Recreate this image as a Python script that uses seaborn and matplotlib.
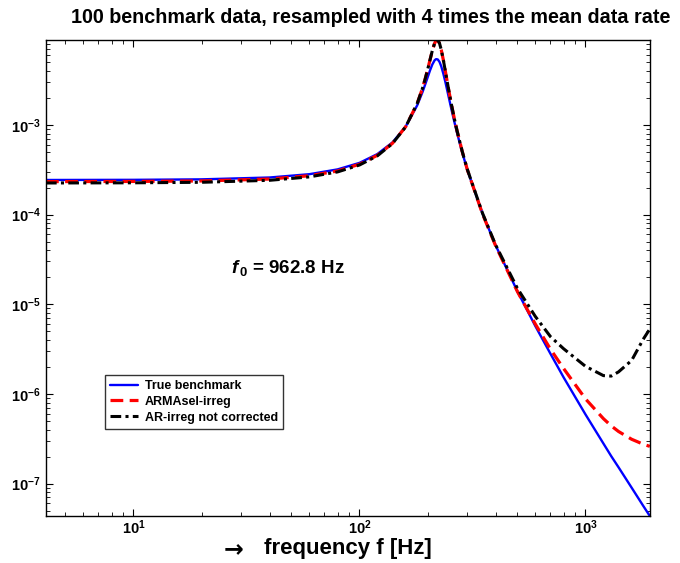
import numpy as np
import pandas as pd
import matplotlib
matplotlib.use('Agg')
import matplotlib.pyplot as plt
import seaborn as sns

sns.set_style('ticks')
plt.rcParams['font.family'] = ['Liberation Sans', 'DejaVu Sans']
plt.rcParams['font.weight'] = 'bold'
plt.rcParams['text.color'] = 'black'
plt.rcParams['axes.labelcolor'] = 'black'
plt.rcParams['xtick.color'] = 'black'
plt.rcParams['ytick.color'] = 'black'
plt.rcParams['axes.edgecolor'] = 'black'
plt.rcParams['mathtext.fontset'] = 'custom'
plt.rcParams['mathtext.rm'] = 'Liberation Sans:bold'
plt.rcParams['mathtext.it'] = 'Liberation Sans:bold:italic'
plt.rcParams['mathtext.bf'] = 'Liberation Sans:bold'

# frequency grid [Hz]
freq = [4.1, 10, 20, 40, 60, 80, 100, 120, 140, 160, 180, 190, 195, 200, 205, 210, 215,
        218, 222, 226, 230, 235, 240, 248, 255, 262, 270, 285, 300, 350, 400, 500, 600,
        700, 800, 1000, 1200, 1300, 1400, 1600, 1800, 1925.6]

true_bench = [2.43e-4, 2.44e-4, 2.47e-4, 2.59e-4, 2.82e-4, 3.19e-4, 3.77e-4, 4.73e-4, 6.38e-4,
              9.55e-4, 1.65e-3, 2.32e-3, 2.79e-3, 3.36e-3, 4.03e-3, 4.71e-3, 5.25e-3,
              5.41e-3, 5.37e-3, 5.04e-3, 4.50e-3, 3.72e-3, 2.99e-3, 2.06e-3, 1.50e-3, 1.12e-3,
              8.19e-4, 4.91e-4, 3.15e-4, 1.03e-4, 4.55e-5, 1.39e-5, 5.7e-6,
              2.8e-6, 1.53e-6, 5.9e-7, 2.8e-7, 2.02e-7, 1.52e-7, 9.0e-8, 5.65e-8, 4.35e-8]

armasel = [2.33e-4, 2.34e-4, 2.37e-4, 2.49e-4, 2.71e-4, 3.06e-4, 3.64e-4, 4.58e-4, 6.24e-4,
           9.52e-4, 1.73e-3, 2.56e-3, 3.21e-3, 4.09e-3, 5.27e-3, 6.71e-3, 8.13e-3,
           8.70e-3, 8.81e-3, 8.11e-3, 6.90e-3, 5.28e-3, 3.93e-3, 2.47e-3, 1.70e-3, 1.22e-3,
           8.67e-4, 5.03e-4, 3.17e-4, 1.02e-4, 4.5e-5, 1.38e-5, 6.0e-6,
           3.15e-6, 1.92e-6, 8.8e-7, 5.3e-7, 4.4e-7, 3.81e-7, 3.12e-7, 2.75e-7, 2.6e-7]

ar_uncorr = [2.25e-4, 2.26e-4, 2.29e-4, 2.41e-4, 2.63e-4, 2.99e-4, 3.57e-4, 4.52e-4, 6.20e-4,
             9.50e-4, 1.73e-3, 2.56e-3, 3.21e-3, 4.09e-3, 5.27e-3, 6.73e-3, 8.16e-3,
             8.75e-3, 8.85e-3, 8.13e-3, 6.90e-3, 5.28e-3, 3.93e-3, 2.47e-3, 1.70e-3, 1.22e-3,
             8.67e-4, 5.03e-4, 3.19e-4, 1.04e-4, 4.6e-5, 1.5e-5, 7.3e-6,
             4.35e-6, 3.19e-6, 2.03e-6, 1.60e-6, 1.58e-6, 1.76e-6, 2.36e-6, 4.06e-6, 5.3e-6]

df = pd.DataFrame({'f': freq, 'true': true_bench, 'armasel': armasel, 'ar': ar_uncorr})

fig = plt.figure(figsize=(6.8, 5.63), dpi=100)
ax = fig.add_axes([0.0676, 0.0835, 0.888, 0.8455])

sns.lineplot(data=df, x='f', y='true', ax=ax, color='#0000ff', lw=1.7,
             label='True benchmark')
sns.lineplot(data=df, x='f', y='armasel', ax=ax, color='#ff0000', lw=2.3,
             linestyle=(0, (4.0, 2.0)), label='ARMAsel-irreg')
sns.lineplot(data=df, x='f', y='ar', ax=ax, color='black', lw=2.2,
             linestyle=(0, (3.5, 1.4, 1, 1.4)), label='AR-irreg not corrected')

ax.set_xscale('log')
ax.set_yscale('log')
ax.set_xlim(min(freq), max(freq))
ax.set_ylim(min(true_bench), max(ar_uncorr))

ax.tick_params(which='both', direction='in', top=True, right=True, labelsize=10.5)
ax.tick_params(which='major', length=5, width=0.8)
ax.tick_params(which='minor', length=3, width=0.6)
ax.tick_params(axis='x', which='major', pad=2)
for s in ax.spines.values():
    s.set_linewidth(1.0)
    s.set_color('black')

ax.set_title('100 benchmark data, resampled with 4 times the mean data rate',
             fontsize=14.2, fontweight='bold', pad=12, x=0.538)
ax.set_xlabel('frequency f [Hz]', fontsize=16, fontweight='bold')
ax.xaxis.set_label_coords(0.50, -0.047)
ax.set_ylabel('')
ax.text(0.31, -0.069, '\u2192', transform=ax.transAxes, ha='center', va='center',
        fontsize=17, family='DejaVu Sans')

ax.text(0.40, 0.52, r'$f_{\,0}$ = 962.8 Hz', transform=ax.transAxes,
        ha='center', va='center', fontsize=13.5, fontweight='bold')

leg = ax.legend(loc='upper left', bbox_to_anchor=(0.098, 0.296), borderaxespad=0,
                fontsize=9, fancybox=False, frameon=True, handlelength=2.2,
                borderpad=0.4, labelspacing=0.3, handletextpad=0.6)
leg.get_frame().set_edgecolor('black')
leg.get_frame().set_linewidth(1.0)
for t in leg.get_texts():
    t.set_fontweight('bold')

fig.savefig('out.png', dpi=100)
